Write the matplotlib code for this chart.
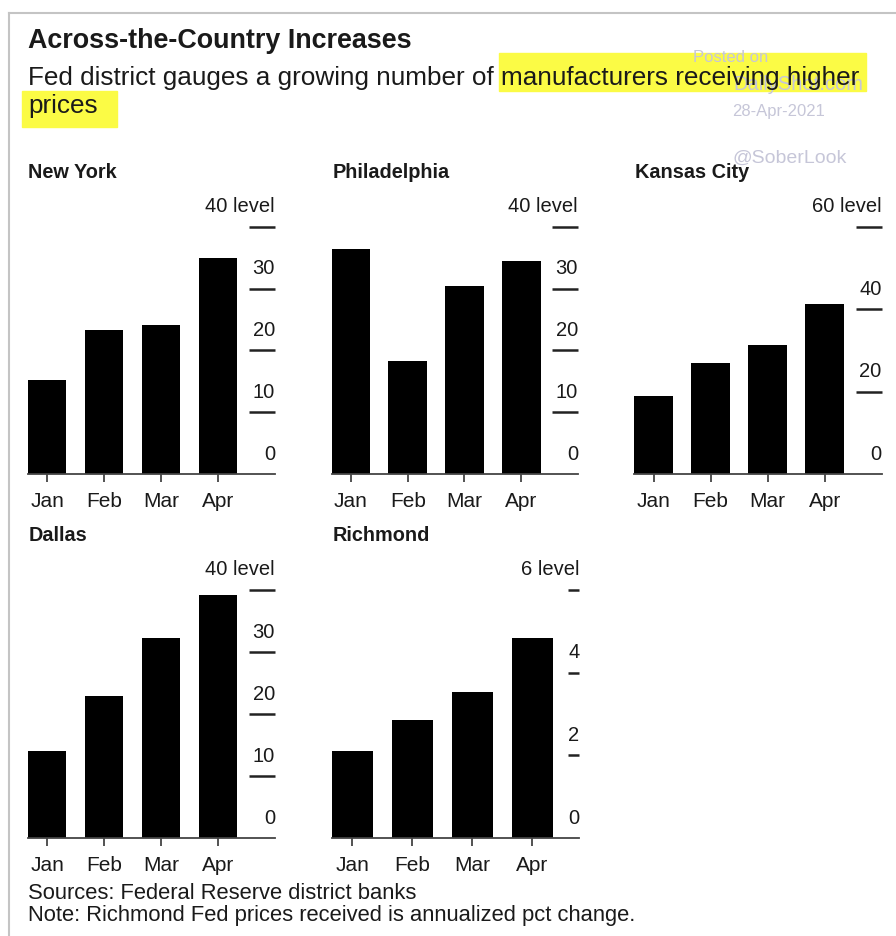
import matplotlib
matplotlib.use("Agg")
import matplotlib.pyplot as plt
from matplotlib.patches import Rectangle
from matplotlib.lines import Line2D

plt.rcParams['font.family'] = ['Liberation Sans', 'DejaVu Sans']

W, H = 896, 937

months = ['Jan', 'Feb', 'Mar', 'Apr']

new_york = [15.2, 23.3, 24.1, 34.9]
philadelphia = [36.4, 18.2, 30.4, 34.5]
kansas_city = [18.9, 27.0, 31.3, 41.3]
dallas = [14.0, 22.9, 32.2, 39.2]
richmond = [2.1, 2.86, 3.53, 4.83]

ticks_40 = [0, 10, 20, 30, 40]
ticks_60 = [0, 20, 40, 60]
ticks_6 = [0, 2, 4, 6]

ink = '#1a1a1a'


def frac(x, y):
    # pixel position (from top-left) -> figure fraction
    return x / W, 1 - y / H


def panel(fig, name, values, ticks, left, right, top, bottom, xmax, dash):
    ax = fig.add_axes([left / W, 1 - bottom / H, (right - left) / W, (bottom - top) / H])
    ax.bar(range(len(values)), values, width=0.68, color='black')
    ax.set_xlim(-0.34, xmax)
    ax.set_ylim(0, ticks[-1])
    for s in ['top', 'left', 'right']:
        ax.spines[s].set_visible(False)
    ax.spines['bottom'].set_color('#444444')
    ax.spines['bottom'].set_linewidth(1.3)
    ax.set_yticks([])
    ax.set_xticks(range(len(months)))
    ax.set_xticklabels(months, fontsize=15, color=ink)
    ax.tick_params(axis='x', length=6, width=1.3, color='#444444', pad=6)

    # short dashes at the right edge with the value written above each
    frac_dash = dash / (right - left)
    ax.hlines(ticks[1:], 1 - frac_dash, 1, transform=ax.get_yaxis_transform(),
              color='#222222', lw=1.8, clip_on=False)
    for i, t in enumerate(ticks):
        label = f'{t} level' if i == len(ticks) - 1 else f'{t}'
        ax.annotate(label, xy=(1, t), xycoords=ax.get_yaxis_transform(),
                    xytext=(0, 15), textcoords='offset points',
                    ha='right', va='center', fontsize=14.5, color=ink,
                    annotation_clip=False)

    fig.text(*frac(left + 0.5, top - 50), name, fontsize=14.3, fontweight='bold',
             color=ink, ha='left', va='baseline')
    return ax


fig = plt.figure(figsize=(W / 100, H / 100), dpi=100)

# frame lines
fig.add_artist(Line2D([9 / W, 1], [1 - 14 / H, 1 - 14 / H], color='#c4c4c4', lw=1.5))
fig.add_artist(Line2D([9 / W, 9 / W], [0, 1 - 14 / H], color='#c4c4c4', lw=1.5))

# highlighted phrase
for (x0, y0, x1, y1) in [(499, 54, 866, 92), (22, 92, 117, 128)]:
    fig.add_artist(Rectangle(frac(x0, y1), (x1 - x0) / W, (y1 - y0) / H,
                             transform=fig.transFigure, color='#fbfb45', zorder=0))

# watermark
wm = '#c6c6d8'
fig.text(*frac(693, 62), 'Posted on', fontsize=12, color=wm, zorder=1)
fig.text(*frac(733, 90), 'DailyShot.com', fontsize=14.5, color=wm, zorder=1)
fig.text(*frac(732, 116), '28-Apr-2021', fontsize=12, color=wm, zorder=1)
fig.text(*frac(733, 163), '@SoberLook', fontsize=14, color=wm, zorder=1)

fig.text(*frac(28, 48), 'Across-the-Country Increases', fontsize=19.4,
         fontweight='bold', color=ink, va='baseline', zorder=3)
fig.text(*frac(28, 85), 'Fed district gauges a growing number of manufacturers receiving higher',
         fontsize=18.8, color=ink, va='baseline', zorder=3)
fig.text(*frac(28, 113), 'prices', fontsize=18.8, color=ink, va='baseline', zorder=3)

panel(fig, 'New York', new_york, ticks_40, 27.7, 275, 227.7, 475, 4.0, 26)
panel(fig, 'Philadelphia', philadelphia, ticks_40, 331.7, 578, 227.7, 475, 4.0, 26)
panel(fig, 'Kansas City', kansas_city, ticks_60, 634.3, 881.7, 227.7, 475, 4.0, 26)
panel(fig, 'Dallas', dallas, ticks_40, 27.7, 275, 590.7, 839.3, 4.0, 26)
panel(fig, 'Richmond', richmond, ticks_6, 331.7, 579.3, 590.7, 839.3, 3.78, 11)

fig.text(*frac(28, 899), 'Sources: Federal Reserve district banks', fontsize=15.8,
         color=ink, va='baseline')
fig.text(*frac(28, 921), 'Note: Richmond Fed prices received is annualized pct change.',
         fontsize=15.8, color=ink, va='baseline')

fig.savefig('out.png', dpi=100, facecolor='white')
